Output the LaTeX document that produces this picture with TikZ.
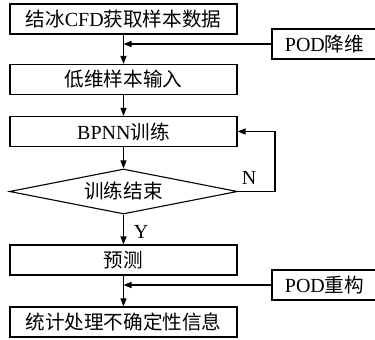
\documentclass[tikz,border=0pt]{standalone}
\usepackage{fontspec}
\setmainfont{Liberation Serif}
\newfontfamily\cjk{Noto Sans CJK SC}[Scale=0.98]
\newcommand\zh[1]{{\cjk #1}}
\usetikzlibrary{shapes.geometric,arrows.meta}
\begin{document}
\begin{tikzpicture}[x=1pt,y=-1pt,
  line width=1.1pt,
  font=\fontsize{20}{22}\selectfont,
  procbox/.style={draw,rectangle,minimum width=227pt,minimum height=30pt,inner sep=0pt},
  podbox/.style={draw,rectangle,minimum width=105pt,minimum height=30pt,inner sep=0pt},
  decide/.style={draw,diamond,aspect=5.07,minimum width=228pt,minimum height=45pt,inner sep=0pt},
  flow/.style={-{Triangle[length=8pt,width=6pt]}},
  lbl/.style={inner sep=0pt}]
\useasboundingbox (0,0) rectangle (375,340);

% main column
\node[procbox] (cfd)   at (123.5,19)    {\zh{结冰}CFD\zh{获取样本数据}};
\node[procbox] (low)   at (123.5,79.5)  {\zh{低维样本输入}};
\node[procbox] (train) at (123.5,131.5) {BPNN\zh{训练}};
\node[decide]  (done)  at (123.5,191.5) {\zh{训练结束}};
\node[procbox] (pred)  at (123.5,260)   {\zh{预测}};
\node[procbox] (stat)  at (123.5,322)   {\zh{统计处理不确定性信息}};

% side inputs
\node[podbox] (podr) at (324.5,44)  {POD\zh{降维}};
\node[podbox] (podc) at (324.5,285) {POD\zh{重构}};

% connectors
\draw[flow] (cfd) -- (low);
\draw[flow] (podr.west) -- (podr.west -| cfd.south);
\draw[flow] (low) -- (train);
\draw[flow] (train) -- (done);
\coordinate (loop) at (275,191.5);
\draw[flow] (done.east) -- (loop) |- (train.east);
\draw[flow] (done.south) -- (pred.north);
\draw[flow] (pred) -- (stat);
\draw[flow] (podc.west) -- (podc.west -| pred.south);

% branch labels
\node[lbl] (nlab) at (249,178) {N};
\node[lbl] (ylab) at (141,232) {Y};
\end{tikzpicture}
\end{document}
